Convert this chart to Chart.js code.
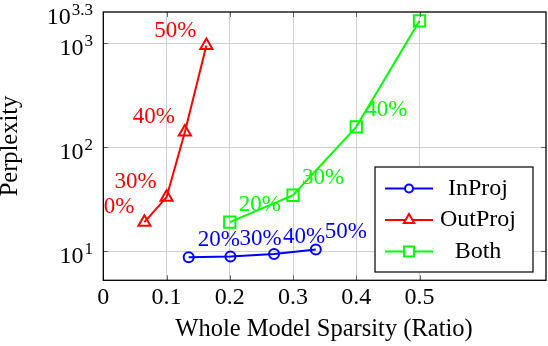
<!DOCTYPE html>
<html>
<head>
<meta charset="utf-8">
<script src="https://cdn.jsdelivr.net/npm/chart.js@4.4.1/dist/chart.umd.min.js"></script>
<style>
  html, body { margin: 0; padding: 0; background: #fff; }
  canvas { display: block; }
</style>
</head>
<body>
<canvas id="chart" width="548" height="346"></canvas>
<script>
// values
const inProjX = [0.135, 0.201, 0.270, 0.336];
const inProjY = [8.76, 8.9, 9.4, 10.4];
const inProjLabels = ['20%', '30%', '40%', '50%'];

const outProjX = [0.065, 0.100, 0.129, 0.163];
const outProjY = [19.0, 33.0, 140, 950];
const outProjLabels = ['20%', '30%', '40%', '50%'];

const bothX = [0.2, 0.3, 0.4, 0.5];
const bothY = [19.0, 34.5, 157, 1640];
const bothLabels = ['20%', '30%', '40%', '50%'];

const xTicks = [0, 0.1, 0.2, 0.3, 0.4, 0.5];
const yTicks = [10, 100, 1000, Math.pow(10, 3.3)];
const yTickExp = ['1', '2', '3', '3.3'];

const FONT = '"Liberation Serif", "DejaVu Serif", serif';

function pts(xs, ys) {
    return xs.map((x, i) => ({ x: x, y: ys[i] }));
}

const datasets = [
    { label: 'InProj', data: pts(inProjX, inProjY), borderColor: '#0000ff', pointStyle: 'circle', pointRadius: 5, valueLabels: inProjLabels, labelSide: 'right' },
    { label: 'OutProj', data: pts(outProjX, outProjY), borderColor: '#ff0000', pointStyle: 'triangle', pointRadius: 7, valueLabels: outProjLabels, labelSide: 'left' },
    { label: 'Both', data: pts(bothX, bothY), borderColor: '#00ff00', pointStyle: 'rect', pointRadius: 8, valueLabels: bothLabels, labelSide: 'right' }
];
datasets.forEach(d => {
    d.borderWidth = 2;
    d.pointBorderColor = d.borderColor;
    d.pointBackgroundColor = 'rgba(0,0,0,0)';
    d.pointBorderWidth = 2;
    d.tension = 0;
    d.fill = false;
});

function drawSuper(ctx, base, exp, rightX, y) {
    ctx.font = '24px ' + FONT;
    const bw = ctx.measureText(base).width;
    ctx.font = '17px ' + FONT;
    const ew = ctx.measureText(exp).width;
    const left = rightX - bw - ew - 1;
    ctx.textAlign = 'left';
    ctx.textBaseline = 'alphabetic';
    ctx.font = '24px ' + FONT;
    ctx.fillText(base, left, y + 12);
    ctx.font = '17px ' + FONT;
    ctx.fillText(exp, left + bw + 1, y + 3);
}

const decorations = {
    id: 'decorations',
    afterDraw(chart) {
        const ctx = chart.ctx;
        const area = chart.chartArea;
        const xs = chart.scales.x;
        const ys = chart.scales.y;
        ctx.save();

        // small inward ticks on all four sides
        ctx.strokeStyle = '#666';
        ctx.lineWidth = 1;
        xTicks.forEach(v => {
            const px = Math.round(xs.getPixelForValue(v)) + 0.5;
            ctx.beginPath();
            ctx.moveTo(px, area.top); ctx.lineTo(px, area.top + 5);
            ctx.moveTo(px, area.bottom); ctx.lineTo(px, area.bottom - 5);
            ctx.stroke();
        });
        yTicks.slice(0, 3).forEach(v => {
            const py = Math.round(ys.getPixelForValue(v)) + 0.5;
            ctx.beginPath();
            ctx.moveTo(area.left, py); ctx.lineTo(area.left + 5, py);
            ctx.moveTo(area.right, py); ctx.lineTo(area.right - 5, py);
            ctx.stroke();
        });

        // box
        ctx.strokeStyle = '#000';
        ctx.lineWidth = 1.3;
        ctx.strokeRect(area.left, area.top, area.right - area.left, area.bottom - area.top);

        // value labels, clipped to the plot area
        ctx.save();
        ctx.beginPath();
        ctx.rect(area.left, area.top, area.right - area.left, area.bottom - area.top);
        ctx.clip();
        ctx.font = '23px ' + FONT;
        ctx.textBaseline = 'middle';
        chart.data.datasets.forEach((ds, i) => {
            const meta = chart.getDatasetMeta(i);
            ctx.fillStyle = ds.borderColor;
            meta.data.forEach((p, j) => {
                if (ds.labelSide === 'left') {
                    ctx.textAlign = 'right';
                    ctx.fillText(ds.valueLabels[j], p.x - 10, p.y - 15);
                } else {
                    ctx.textAlign = 'left';
                    ctx.fillText(ds.valueLabels[j], p.x + 9, p.y - 17);
                }
            });
        });
        ctx.restore();

        // tick labels
        ctx.fillStyle = '#000';
        ctx.font = '24px ' + FONT;
        ctx.textAlign = 'center';
        ctx.textBaseline = 'middle';
        xTicks.forEach(v => {
            ctx.fillText(String(v), xs.getPixelForValue(v), 298);
        });
        yTicks.forEach((v, i) => {
            drawSuper(ctx, '10', yTickExp[i], 93, ys.getPixelForValue(v));
        });

        // axis titles
        ctx.font = '24.5px ' + FONT;
        ctx.textAlign = 'center';
        ctx.textBaseline = 'middle';
        ctx.fillText('Whole Model Sparsity (Ratio)', 324, 330);
        ctx.save();
        ctx.translate(11, 146);
        ctx.rotate(-Math.PI / 2);
        ctx.fillText('Perplexity', 0, 0);
        ctx.restore();

        // legend
        const lx = 375, ly = 167, lw = 158, lh = 105;
        ctx.fillStyle = '#fff';
        ctx.fillRect(lx, ly, lw, lh);
        ctx.strokeStyle = '#000';
        ctx.lineWidth = 1.2;
        ctx.strokeRect(lx, ly, lw, lh);
        const rows = [188.5, 220, 251.5];
        chart.data.datasets.forEach((ds, i) => {
            const y = rows[i];
            ctx.strokeStyle = ds.borderColor;
            ctx.lineWidth = 2;
            ctx.beginPath();
            ctx.moveTo(385, y); ctx.lineTo(433, y);
            ctx.stroke();
            ctx.fillStyle = '#fff';
            Chart.helpers.drawPoint(ctx, {
                pointStyle: ds.pointStyle,
                radius: ds.pointStyle === 'circle' ? 4 : (ds.pointStyle === 'rect' ? 7 : 6),
                borderWidth: 2
            }, 409, y);
            ctx.fillStyle = '#000';
            ctx.font = '24px ' + FONT;
            ctx.textAlign = 'center';
            ctx.textBaseline = 'middle';
            ctx.fillText(ds.label, 478, y);
        });

        ctx.restore();
    }
};

new Chart(document.getElementById('chart'), {
    type: 'line',
    data: { datasets: datasets },
    options: {
        responsive: false,
        devicePixelRatio: 1,
        animation: false,
        layout: { autoPadding: false, padding: { left: 103.3, right: 2, top: 12, bottom: 65.7 } },
        plugins: { legend: { display: false }, tooltip: { enabled: false } },
        scales: {
            x: {
                type: 'linear',
                min: 0,
                max: 0.7,
                afterBuildTicks: s => { s.ticks = xTicks.map(v => ({ value: v })); },
                ticks: { display: false },
                grid: { color: '#d0d0d0', lineWidth: 1, drawTicks: false },
                border: { display: false }
            },
            y: {
                type: 'logarithmic',
                min: Math.pow(10, 0.72),
                max: Math.pow(10, 3.3),
                afterBuildTicks: s => { s.ticks = yTicks.slice(0, 3).map(v => ({ value: v })); },
                ticks: { display: false },
                grid: { color: '#d0d0d0', lineWidth: 1, drawTicks: false },
                border: { display: false }
            }
        }
    },
    plugins: [decorations]
});
</script>
</body>
</html>
